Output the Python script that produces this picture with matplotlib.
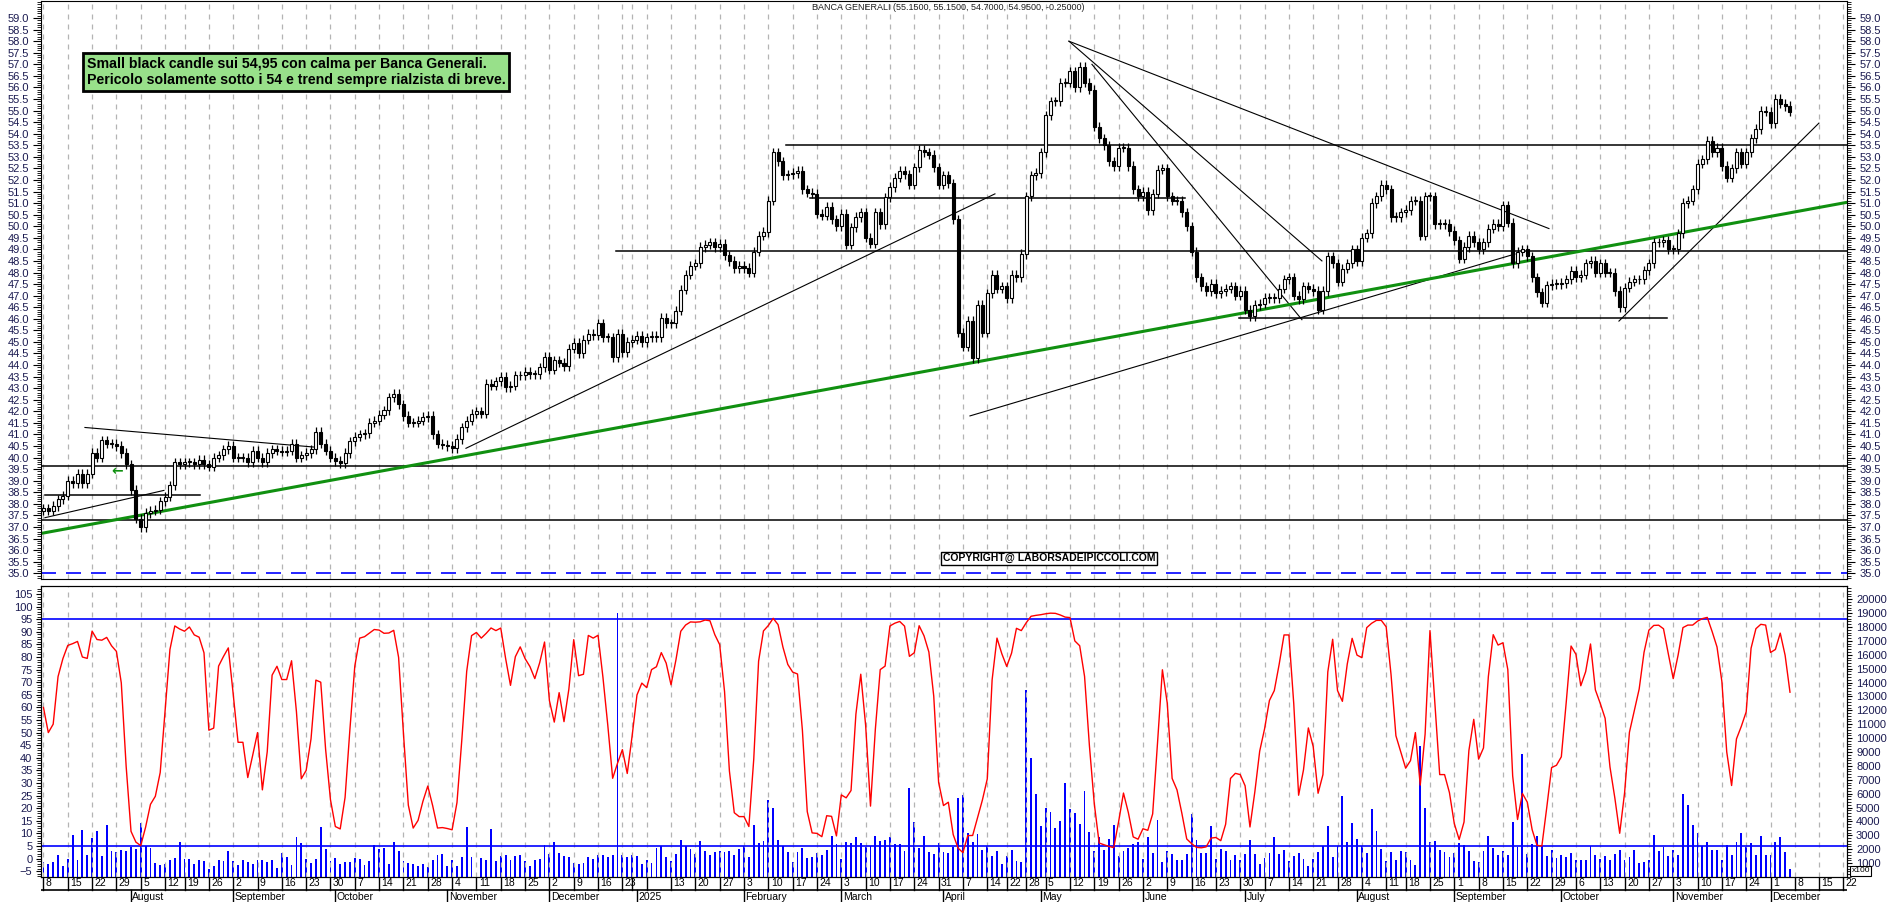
import numpy as np
import pandas as pd
import matplotlib
matplotlib.use("Agg")
import matplotlib.pyplot as plt

plt.rcParams['font.family'] = ['Liberation Sans', 'DejaVu Sans']

# ---------------- data ----------------
closes_a = [37.8,37.7,37.9,38.2,38.35, 39.0,38.9,39.3,38.9,39.3, 40.2,40.0,40.75,40.6,40.6,
            40.5,40.2,39.7,38.6,37.35, 37.0,37.6,37.7,37.75,38.1, 38.3,38.8,39.8,39.7,39.8,
            39.8,39.7,39.9,39.7,39.6, 40.0,40.1,40.35,40.5,40.0, 40.0,40.0,39.8,40.3,40.0,
            39.8,40.2,40.35,40.3,40.25, 40.3,40.6,40.0,40.1,40.2, 40.35,41.1,40.6,40.3,40.0,
            39.85,39.75,40.2,40.7,40.9, 41.0,41.05,41.5,41.6,41.85, 42.05,42.6,42.75,42.3,41.8,
            41.5,41.5,41.6,41.75,41.8, 41.0,40.6,40.55,40.5,40.4, 40.8,41.3,41.6,41.9,42.0,41.9]
closes_b = [43.2,43.1,43.3,43.5,43.05,43.1,43.55,43.55,43.7,43.6,43.6,43.9,44.35,43.8,44.2,44.1,
            43.95,44.7,44.95,44.5,45.1,45.35,45.3,45.8,45.2,45.2,44.35,45.35,44.55,45.0,45.1,45.25,
            45.0,45.2,45.25,45.2,46.05,45.8,45.8,46.35,47.25,47.9,48.3,48.4,49.1,49.2,49.3,49.1,
            49.25,48.75,48.5,48.2,48.3,48.2,48.0,48.9,49.6,49.75,51.1,53.2,52.8,52.2,52.25,52.3,
            52.4,51.6,51.45,51.4,50.55,50.45,50.85,50.3,50.0,50.55,49.2,49.95,50.4,50.6,49.5,49.25,
            50.6,50.1,51.25]
closes_c = [51.7,52.1,52.4,52.25,51.8,52.55,53.3,53.2,53.1,52.55, 51.8,52.2,51.85,50.3,45.4,44.8,45.9,44.3,46.6,45.4,
            47.1,47.9,47.3,47.4,46.9,47.9,47.8,48.8,51.3,52.2, 52.3,53.2,54.8,55.4,55.4,56.2,56.2,56.7,56.0,56.9,
            56.2,55.9,54.3,53.8,53.5,52.8,52.6,53.4,53.4,52.6, 51.6,51.3,51.5,50.7,51.4,52.45,52.5,51.3,51.1,51.1,
            50.6,50.0,48.9,47.8,47.4,47.2,47.5,47.1,47.2,47.3, 47.4,47.0,47.2,46.4,46.1,46.6,46.65,46.9,46.9,46.9,
            47.3,47.7,47.8,47.0,46.85,47.4,47.3,47.2,46.4,47.2, 48.7]
closes_d = [48.4,47.6,48.17,48.4,49.0,48.5,49.5,49.7,51.0,51.3, 51.8,51.6,50.4,50.4,50.6,50.7,51.1,51.1,49.6,51.3,
            51.3,50.1,50.1,50.1,49.8,49.4,48.6,49.1,49.6,49.3, 49.0,49.3,49.9,50.1,50.0,50.9,50.15,48.4,48.9,49.0,
            48.7,47.8,47.15,46.7,47.45,47.5,47.5,47.55,47.7,48.07, 47.8,47.9,48.4,48.5,48.0,48.4,48.0,48.0,47.2,46.5,
            47.35,47.6,47.7,47.7,48.1,48.4,49.3,49.3,49.4,49.0, 49.0,49.7,51.0,51.1,51.6,52.7,52.9,53.7,53.2,53.4,
            52.6,52.1,52.5,53.2,52.7,53.2,53.8,54.2]
closes_e = [55.0,54.95,54.45,55.5,55.3,55.2,54.95]

vol_a = [1080,910,1080,1560,820,1270,3000,1220,3410,1610, 2830,3290,1540,3720,1870,1800,1920,1870,2160,1990,
         3860,2230,2110,1030,840,960,1200,1390,2500,1270, 1270,910,1200,1130,580,770,1250,1130,1850,1130,
         890,1200,1060,960,1200,1200,1060,1200,650,1700, 1420,840,2860,2420,1270,980,1270,3620,2020,1130,
         1390,940,1080,1080,1370,1320,840,1130,2330,1990, 2110,960,2500,1850,1180,1010,940,820,960,740,
         1200,1560,1630,790,1200,790,1460,3600,1460,70, 1390,1200,3480,1180,1510,1560,1200,1510,1560,1150,
         790,1200,1300,2330,1680,2500,1750,1510,1440,1030, 960,1010,1440,1300,1560,1560,1440,1560,19000,1560,
         1440,1560,1510]
vol_b = [960,1200,1030,2110,2210,1440,1150,1680,2640,2210, 1990,1680,2570,1850,1560,1820,1850,1820,1850,1560,
         2040,2210,1440,3720,2470,2570,5520,4990,2640,2230, 1800,1080,1800,2060,1370,1440,1750,1560,1920,2930,
         2400,1270,2500,2450,2860,2450,2160,2230,2980,2570, 2640,2860,2350,2400,1850,6430,3940,2090,2930,1800,
         1630,2470,1820,1730,2160,5690,5900,3170,2540,3120, 1920,2210,1510,1850,960,1490,1920,1180,1080,13500,
         8590,6000,3700,4940,4660,3530,4010,6740,4870,4580, 3840,6190,3220,1850,2880,1920,2760,3770,1540,1850,
         2110,2400,2500,1270,2880,1750,4130,1100,1850,1630, 1200,1200,1680,4560,2690,1730,1730,3650,1270,1990,
         1850,1200,1560]
vol_c = [1200,1630,2640,1680,960,1390,1750,2860,1630,1920, 1150,1540,1700,1270,770,1270,1820,2210,3650,1460,
         2210,5810,2500,3860,2710,2260,1730,4870,3290,1990, 1130,1780,1200,1850,1820,1200,890,9460,4990,2540,
         2570,1920,1820,1460,1700,2470,2300,1850,1180,1100, 1850,2930,2110,1580,1870,1610,3980,2140,8860,1660,
         2400,2930,2210,1490,1920,1340,1560,1440,1750,1200, 1220,1250,2210,1610,1300,1540,1200,1680,1920,1250,
         1420,1920,1010,1060,1200,3050,1850,2140,1490,1920, 1560,6000,5210,3720,3170,2210,2500,1920,1920,1200,
         2330,1560,2500,3190,2160,2470,1560,2930,1560,1560, 2500,2860,1820,550]

month_names = ["January", "February", "March", "April", "May", "June", "July", "August",
               "September", "October", "November", "December"]
holidays = ['2024-08-15', '2024-12-24', '2024-12-25', '2024-12-26', '2024-12-31', '2025-01-01',
            '2025-04-18', '2025-04-21', '2025-05-01', '2025-08-15', '2025-12-24', '2025-12-25',
            '2025-12-26', '2025-12-31']
title = "BANCA GENERALI (55.1500, 55.1500, 54.7000, 54.9500, -0.25000)"
note = ("Small black candle sui 54,95 con calma per Banca Generali.\n"
        "Pericolo solamente sotto i 54 e trend sempre rialzista di breve.")

closes = np.array(closes_a + closes_b + closes_c + closes_d + closes_e)
vols = np.array(vol_a + vol_b + vol_c)
n = len(closes)
opens = np.concatenate([[37.7], closes[:-1]])
highs = np.maximum(opens, closes) + 0.2
lows = np.minimum(opens, closes) - 0.2

cal = pd.bdate_range('2024-07-08', '2025-12-31')
cal = cal[~cal.isin(pd.to_datetime(holidays))]
idx = np.arange(n)

# stochastic oscillator (derived from prices)
hh = pd.Series(highs).rolling(7, min_periods=1).max()
ll = pd.Series(lows).rolling(7, min_periods=1).min()
k = 100 * (pd.Series(closes) - ll) / (hh - ll)
stoch = k.rolling(2, min_periods=1).mean().values

# ---------------- figure ----------------
W, H = 1890, 902
fig = plt.figure(figsize=(W / 100, H / 100), dpi=100)
L, R = 41.5, 1847

def rect(top, bot):
    return [L / W, 1 - bot / H, (R - L) / W, (bot - top) / H]

ax1 = fig.add_axes(rect(0.5, 579))
ax2 = fig.add_axes(rect(586, 877))
ax3 = fig.add_axes(rect(877, 902))
xl = (-0.4, (R - L) / 4.865 - 0.4)
for a in (ax1, ax2, ax3):
    a.set_xlim(*xl)

tick_col = '#1a1a50'
wk = pd.Series(range(len(cal)), index=cal)
week_starts = [int(g.iloc[0]) for _, g in wk.groupby(cal.to_period('W'))]
week_starts = [w for w in week_starts if w <= xl[1]]
month_starts = [(int(g.iloc[0]), p) for p, g in wk.groupby(cal.to_period('M'))]
month_starts = [(m, p) for m, p in month_starts if m <= xl[1] and m > 0]

for a in (ax1, ax2):
    for w in week_starts:
        a.axvline(w, color='#b4b4b4', lw=0.9, ls=(0, (4, 4)), zorder=0)

# ---- price panel ----
ax1.set_ylim(59.76 - 579 / 23.15, 59.76)
up = closes >= opens
ax1.vlines(idx, lows, highs, color='black', lw=0.9, zorder=3)
body_h = np.maximum(np.abs(closes - opens), 0.04)
ax1.bar(idx, body_h, bottom=np.minimum(opens, closes), width=0.62,
        color=np.where(up, 'white', 'black'), edgecolor='black', linewidth=0.8, zorder=4)

def px2i(x):
    return (x - L) / 4.865

ax1.axhline(39.65, color='black', lw=1.1, zorder=2)
ax1.axhline(37.3, color='black', lw=1.1, zorder=2)
ax1.axhline(35.0, color='blue', lw=1.2, ls=(0, (9, 6)), zorder=2)
segs = [  # analyst drawings: (x_px, price) pairs
    ((784, 53.5), (R, 53.5), 1.1), ((614, 48.95), (R, 48.95), 1.1),
    ((808, 51.2), (1183, 51.2), 1.1), ((1237, 46.05), (1665, 46.05), 1.1),
    ((43, 38.4), (198, 38.4), 1.1),
    ((83, 41.3), (313, 40.45), 0.8), ((43, 37.4), (162, 38.58), 0.8),
    ((464, 40.4), (993, 51.4), 0.8), ((1067, 58.0), (1547, 49.9), 0.8),
    ((1067, 58.0), (1320, 48.5), 0.8), ((1090, 57.0), (1300, 45.96), 0.8),
    ((968, 41.8), (1513, 48.8), 0.8), ((1617, 45.9), (1817, 54.46), 0.8),
]
for (x0, y0), (x1, y1), lw in segs:
    ax1.plot([px2i(x0), px2i(x1)], [y0, y1], color='black', lw=lw, zorder=2)
g0, g1 = (43, 36.75), (1760, 50.36)
sl = (g1[1] - g0[1]) / (px2i(g1[0]) - px2i(g0[0]))
ax1.plot([xl[0], xl[1]], [g0[1] + sl * (xl[0] - px2i(g0[0])), g0[1] + sl * (xl[1] - px2i(g0[0]))],
         color='#109010', lw=2.2, zorder=2)
ax1.text(px2i(115), 39.43, "←", color='#109010', fontsize=10, fontweight='bold',
         ha='center', va='center', family=['DejaVu Sans'])

ax1.set_yticks(np.arange(35.0, 59.01, 0.5))
ax1.set_yticks(np.arange(34.8, 59.76, 0.1), minor=True)
ax1.yaxis.set_major_formatter(matplotlib.ticker.FormatStrFormatter('%.1f'))
ax1.tick_params(axis='y', which='both', left=True, right=True, labelleft=True, labelright=True,
                direction='out', labelsize=8, labelcolor=tick_col, pad=3)
ax1.tick_params(axis='y', which='major', length=6, width=0.8)
ax1.tick_params(axis='y', which='minor', length=3, width=0.6)
ax1.tick_params(axis='x', bottom=False, labelbottom=False)
ax1.text(px2i(1047), 35.65, "COPYRIGHT@ LABORSADEIPICCOLI.COM", fontsize=7.5, fontweight='bold',
         ha='center', va='center', zorder=6,
         bbox=dict(boxstyle='square,pad=0.15', fc='white', ec='black', lw=1))

fig.text(87 / W, 1 - 72 / H, note, fontsize=10.2, fontweight='bold', ha='left', va='center',
         linespacing=1.25, bbox=dict(boxstyle='square,pad=0.25', fc='#98e08a', ec='black', lw=2))
fig.text(948 / W, 1 - 7 / H, title, fontsize=6.5, ha='center', va='center', color='#202020')

# ---- lower panel ----
ax2v = ax2.twinx()
ax2v.set_xlim(*xl)
ax2v.set_ylim(0, (877 - 586) * 72)
ax2.set_ylim(5 - 31 / 2.52, 5 + 260 / 2.52)
ax2v.bar(idx, vols, width=0.38, color='#0000ff', zorder=2)
ax2.set_zorder(ax2v.get_zorder() + 1)
ax2.patch.set_visible(False)
ax2.plot(idx, stoch, color='#ff0000', lw=1.0, zorder=3)
ax2.axhline(5, color='#0000ff', lw=1.2)
ax2.axhline(95, color='#0000ff', lw=1.2)
ax2.set_yticks(np.arange(-5, 106, 5))
ax2.set_yticks(np.arange(-7, 108, 1), minor=True)
ax2.tick_params(axis='y', which='both', direction='out', labelsize=8, labelcolor=tick_col, pad=3)
ax2.tick_params(axis='y', which='minor', length=3)
ax2.tick_params(axis='x', bottom=False, labelbottom=False)
ax2v.set_yticks(np.arange(1000, 20001, 1000))
ax2v.set_yticks(np.arange(0, 20900, 200), minor=True)
ax2v.tick_params(axis='y', which='both', direction='out', labelsize=8, labelcolor=tick_col, pad=3)
ax2v.tick_params(axis='y', which='minor', length=3)
fig.text(1861 / W, 1 - 871 / H, "x100", fontsize=6, ha='center', va='center',
         bbox=dict(boxstyle='square,pad=0.15', fc='white', ec='black', lw=0.8))

# ---- date strip ----
ax3.set_ylim(0, 1)
ax3.axis('off')
ax3.axhline(0.5, color='black', lw=1.2)
ax3.axhline(1.0, color='black', lw=1.2)
prev = -10
for w in week_starts:
    ax3.plot([w, w], [0.5, 1], color='black', lw=1)
    if w - prev >= 4:
        ax3.text(w + 0.5, 0.76, str(cal[w].day), fontsize=7.5, ha='left', va='center', color='black')
    prev = w
for m, p in month_starts:
    ax3.plot([m, m], [0, 0.5], color='black', lw=1)
    lab = str(p.year) if p.month == 1 else month_names[p.month - 1]
    ax3.text(m + 0.3, 0.2, lab, fontsize=7.5, ha='left', va='center', color='black')

fig.savefig("out.png", dpi=100)
